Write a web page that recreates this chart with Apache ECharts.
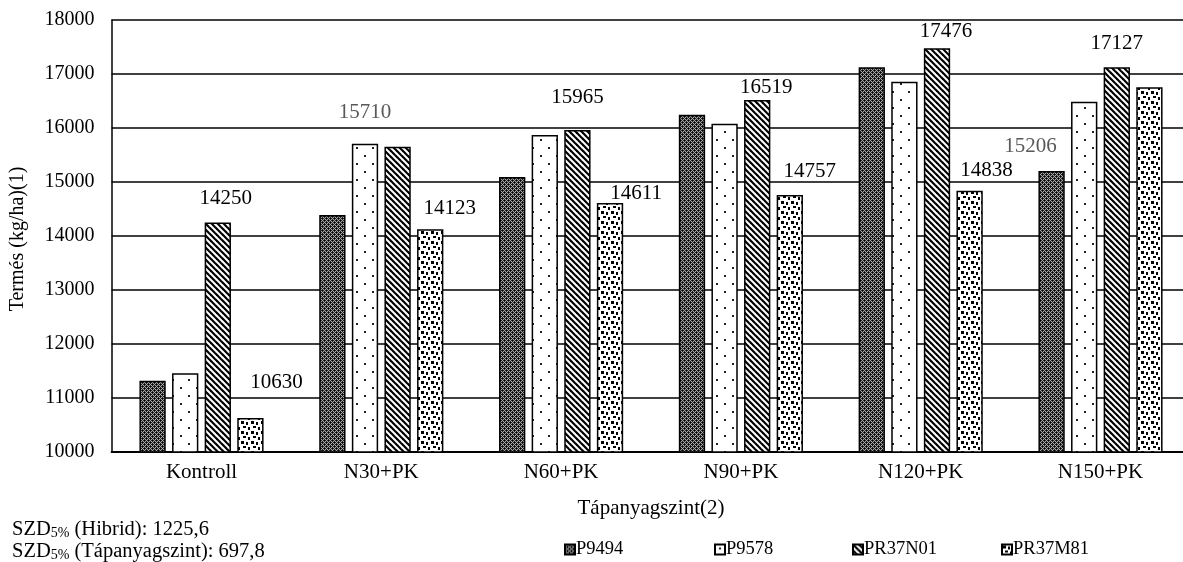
<!DOCTYPE html>
<html>
<head>
<meta charset="utf-8">
<script src="https://cdn.jsdelivr.net/npm/echarts@6/dist/echarts.min.js"></script>
<style>
html,body{margin:0;padding:0;background:#fff;}
#c{width:1183px;height:562px;}
</style>
</head>
<body>
<div id="c"></div>
<script>
// ---- data ----
const categories = ['Kontroll', 'N30+PK', 'N60+PK', 'N90+PK', 'N120+PK', 'N150+PK'];
const seriesNames = ['P9494', 'P9578', 'PR37N01', 'PR37M81'];
const p9494   = [11320, 14390, 15093, 16247, 17123, 15206];
const p9578   = [11457, 15710, 15870, 16080, 16857, 16487];
const pr37n01 = [14250, 15654, 15965, 16519, 17476, 17127];
const pr37m81 = [10630, 14123, 14611, 14757, 14838, 16753];
const yMin = 10000, yMax = 18000, yStep = 1000;
const xAxisTitle = 'Tápanyagszint(2)';
const yAxisTitle = 'Termés (kg/ha)(1)';
const noteHibrid = '1225,6';
const noteTap = '697,8';

// which bars carry a value label (series index -> category indices)
const labelled = [[5], [1], [0, 2, 3, 4, 5], [0, 1, 2, 3, 4]];

// ---- styling (label placement) ----
const labelStyle = {
  '0-5': {dx: -21, dy: -13.5, color: '#595959'},
  '1-1': {dx: 0, dy: -21, color: '#595959'},
  '2-0': {dx: 8, dy: -13.5},
  '2-2': {dx: 0, dy: -22},
  '2-3': {dx: 9, dy: -1.5},
  '2-4': {dx: 9, dy: -6.5},
  '2-5': {dx: 0, dy: -13.5},
  '3-0': {dx: 26, dy: -25},
  '3-1': {dx: 19.5, dy: -10.5},
  '3-2': {dx: 26, dy: 1},
  '3-3': {dx: 20, dy: -13.5},
  '3-4': {dx: 17, dy: -10}
};

const FONT = '"Liberation Serif", "Times New Roman", serif';

function tile(w, h, draw) {
  const c = document.createElement('canvas');
  c.width = w; c.height = h;
  const g = c.getContext('2d');
  draw(g, w, h);
  return {image: c, repeat: 'repeat'};
}
const patterns = [
  tile(4, 4, (g) => {
    for (let x = 0; x < 4; x++) for (let y = 0; y < 4; y++) {
      g.fillStyle = ((x + y) % 2 === 0) ? '#a8a8a8' : '#262626';
      g.fillRect(x, y, 1, 1);
    }
    g.fillStyle = '#000'; g.fillRect(0, 0, 1, 1);
    g.fillStyle = '#000'; g.fillRect(2, 2, 1, 1);
  }),
  tile(16, 16, (g) => {
    g.fillStyle = '#fff'; g.fillRect(0, 0, 16, 16);
    g.fillStyle = '#222';
    g.fillRect(4, 3, 2, 2);
    g.fillRect(12, 11, 2, 2);
  }),
  tile(6, 6, (g) => {
    g.fillStyle = '#fff'; g.fillRect(0, 0, 6, 6);
    g.strokeStyle = '#000'; g.lineWidth = 2.2;
    for (let o = -6; o <= 6; o += 6) {
      g.beginPath(); g.moveTo(o - 1, -1); g.lineTo(o + 7, 7); g.stroke();
    }
  }),
  tile(10, 10, (g) => {
    g.fillStyle = '#fff'; g.fillRect(0, 0, 10, 10);
    g.fillStyle = '#000';
    g.fillRect(1, 1, 3, 3);
    g.fillRect(6, 2, 2, 3);
    g.fillRect(3, 6, 3, 2);
    g.fillRect(8, 7, 2, 3);
  })
];

const values = [p9494, p9578, pr37n01, pr37m81];

const series = values.map((vals, si) => ({
  name: seriesNames[si],
  type: 'bar',
  barWidth: 26.3,
  barGap: '24%',
  itemStyle: {color: patterns[si], borderColor: '#000', borderWidth: 1.5},
  emphasis: {disabled: true},
  data: vals.map((v, ci) => {
    const item = {value: v};
    if (labelled[si].indexOf(ci) >= 0) {
      const st = labelStyle[si + '-' + ci] || {dx: 0, dy: 0};
      item.label = {
        show: true, position: 'top', distance: 0,
        offset: [st.dx, st.dy],
        color: st.color || '#000',
        fontFamily: FONT, fontSize: 21
      };
    }
    return item;
  })
}));

const legendX = [559, 709, 847, 996];
const legends = seriesNames.map((n, i) => ({
  data: [n],
  left: legendX[i], top: 535,
  orient: 'horizontal',
  itemWidth: 10, itemHeight: 10, itemGap: 0,
  icon: 'rect',
  selectedMode: false,
  textStyle: {fontFamily: FONT, fontSize: 18.5, color: '#000', padding: [0, 0, 0, -4]}
}));

const chart = echarts.init(document.getElementById('c'), null, {renderer: 'canvas'});
chart.setOption({
  animation: false,
  backgroundColor: '#fff',
  grid: {left: 111.6, width: 1078.8, top: 20, bottom: 110, containLabel: false, outerBoundsMode: 'none'},
  legend: legends,
  xAxis: {
    type: 'category',
    data: categories,
    axisLine: {lineStyle: {color: '#000', width: 2}},
    axisTick: {show: false},
    axisLabel: {color: '#000', fontFamily: FONT, fontSize: 21, margin: 10},
    name: xAxisTitle,
    nameLocation: 'middle',
    nameGap: 46,
    nameTextStyle: {color: '#000', fontFamily: FONT, fontSize: 21}
  },
  yAxis: {
    type: 'value',
    min: yMin, max: yMax, interval: yStep,
    axisLine: {show: true, lineStyle: {color: '#000', width: 1.5}},
    axisTick: {show: false},
    splitLine: {lineStyle: {color: '#000', width: 1.5}},
    axisLabel: {color: '#000', fontFamily: FONT, fontSize: 20, margin: 17, formatter: (v) => String(v)}
  },
  graphic: [
    {
      type: 'text', x: 18, y: 239, rotation: Math.PI / 2,
      style: {text: yAxisTitle, fill: '#000', font: '20px ' + FONT, align: 'center', verticalAlign: 'middle'}
    },
    {
      type: 'text', left: 12, top: 519,
      style: {
        text: '{a|SZD}{s|5%}{a| (Hibrid): ' + noteHibrid + '}',
        rich: {
          a: {fontFamily: FONT, fontSize: 20.5, color: '#000'},
          s: {fontFamily: FONT, fontSize: 14, color: '#000', padding: [7, 0, 0, 0]}
        }
      }
    },
    {
      type: 'text', left: 12, top: 541,
      style: {
        text: '{a|SZD}{s|5%}{a| (Tápanyagszint): ' + noteTap + '}',
        rich: {
          a: {fontFamily: FONT, fontSize: 20.5, color: '#000'},
          s: {fontFamily: FONT, fontSize: 14, color: '#000', padding: [7, 0, 0, 0]}
        }
      }
    }
  ],
  series: series
});
</script>
</body>
</html>
